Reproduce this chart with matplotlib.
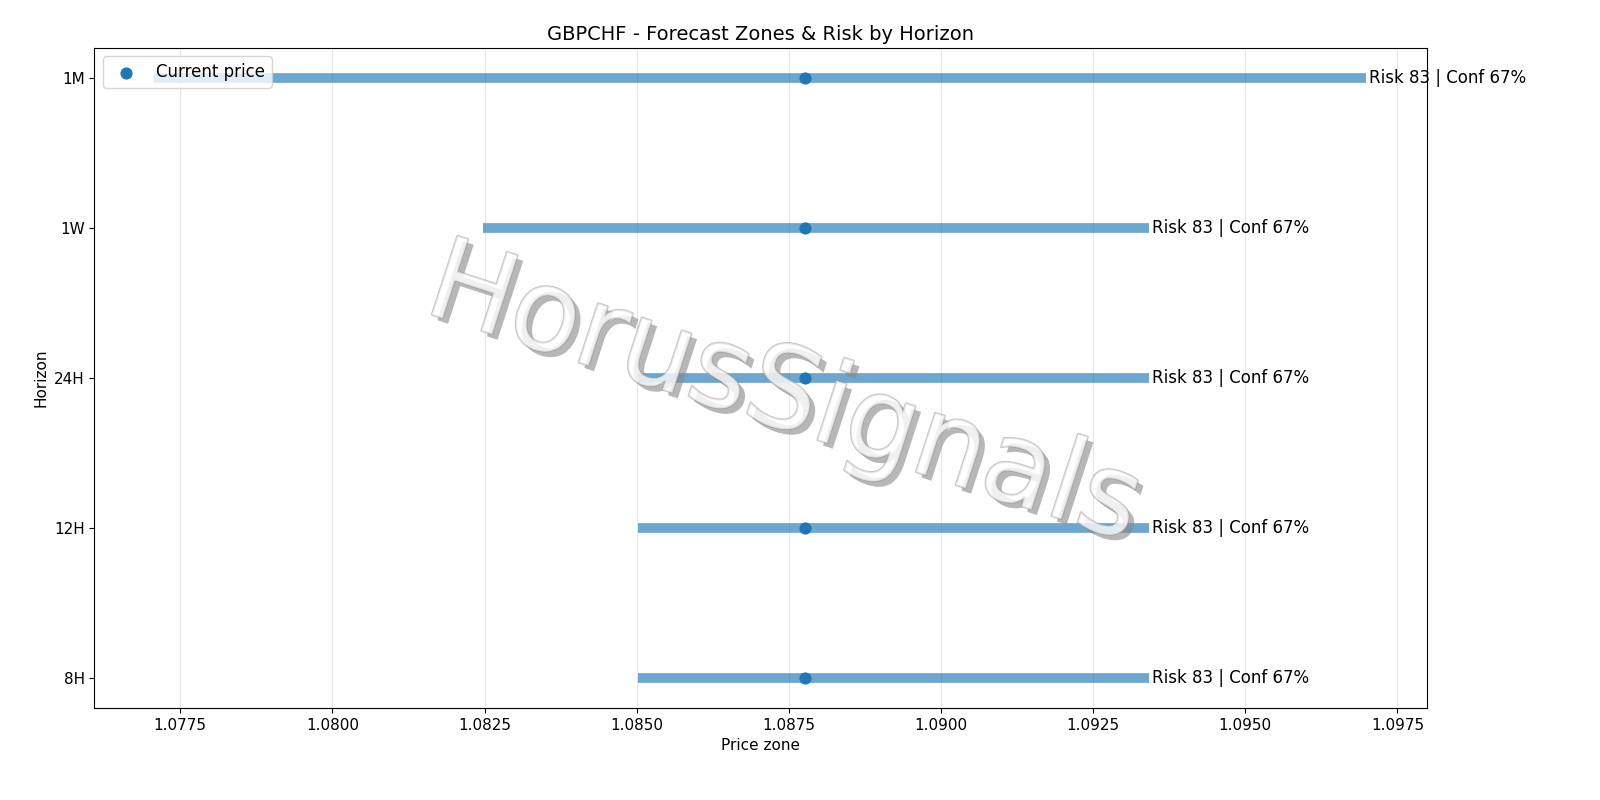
import matplotlib
matplotlib.use("Agg")
import matplotlib.pyplot as plt
import matplotlib.patheffects as pe

horizons = ["8H", "12H", "24H", "1W", "1M"]
low = [1.08503, 1.08503, 1.08503, 1.08248, 1.07707]
high = [1.09342, 1.09342, 1.09342, 1.09342, 1.09699]
current = 1.08776
risk = [83, 83, 83, 83, 83]
conf = [67, 67, 67, 67, 67]

fig, ax = plt.subplots(figsize=(16, 8), dpi=100)
fig.subplots_adjust(left=0.059, right=0.892, top=0.94, bottom=0.115)

y = list(range(len(horizons)))
for i in y:
    ax.hlines(i, low[i], high[i], color="#1f77b4", alpha=0.65, linewidth=7)
    ax.text(high[i] + 0.00004, i, f"Risk {risk[i]} | Conf {conf[i]}%",
            va="center", ha="left", fontsize=12)
ax.scatter([current] * len(y), y, color="#1f77b4", s=60, zorder=3, label="Current price")

ax.set_yticks(y)
ax.set_yticklabels(horizons, fontsize=11)
ax.set_xlim(1.07609, 1.09799)
ax.set_ylim(-0.2, 4.2)
ax.set_xticks([1.0775 + 0.0025 * k for k in range(9)])
ax.set_xticklabels([f"{1.0775 + 0.0025 * k:.4f}" for k in range(9)], fontsize=11)
ax.grid(axis="x", alpha=0.3)
ax.set_xlabel("Price zone", fontsize=11)
ax.set_ylabel("Horizon", fontsize=11)
ax.set_title("GBPCHF - Forecast Zones & Risk by Horizon", fontsize=14)
ax.legend(loc="upper left", fontsize=12)

# watermark
fig.text(0.49, 0.505, "HorusSignals", fontsize=82, rotation=-18, ha="center", va="center",
         color="white", alpha=0.55, zorder=5,
         path_effects=[pe.SimplePatchShadow(offset=(4, -4), shadow_rgbFace="#888888", alpha=0.6),
                       pe.withStroke(linewidth=1.5, foreground="#999999")])

fig.savefig("out.png")
